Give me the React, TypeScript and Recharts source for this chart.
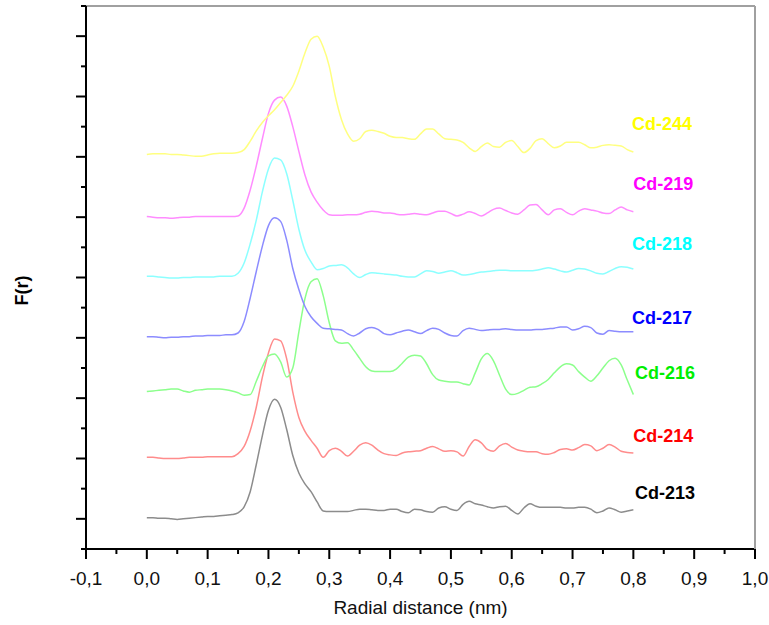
import { LineChart, Line, XAxis, YAxis, ReferenceDot } from 'recharts';

// radial distance (nm), sampled every 0.01
const radius = [
  0.0, 0.01, 0.02, 0.03, 0.04, 0.05, 0.06, 0.07, 0.08, 0.09,
  0.1, 0.11, 0.12, 0.13, 0.14, 0.15, 0.16, 0.17, 0.18, 0.19,
  0.2, 0.21, 0.22, 0.23, 0.24, 0.25, 0.26, 0.27, 0.28, 0.29,
  0.3, 0.31, 0.32, 0.33, 0.34, 0.35, 0.36, 0.37, 0.38, 0.39,
  0.4, 0.41, 0.42, 0.43, 0.44, 0.45, 0.46, 0.47, 0.48, 0.49,
  0.5, 0.51, 0.52, 0.53, 0.54, 0.55, 0.56, 0.57, 0.58, 0.59,
  0.6, 0.61, 0.62, 0.63, 0.64, 0.65, 0.66, 0.67, 0.68, 0.69,
  0.7, 0.71, 0.72, 0.73, 0.74, 0.75, 0.76, 0.77, 0.78, 0.79,
  0.8,
];

// F(r), already shifted by one tick per sample
const cd213 = [
  0.02, 0.02, 0.01, 0.01, 0.0, -0.01, 0.0, 0.01, 0.02, 0.03,
  0.04, 0.04, 0.05, 0.06, 0.07, 0.1, 0.2, 0.45, 0.9, 1.38,
  1.8, 1.98, 1.85, 1.48, 1.05, 0.76, 0.58, 0.45, 0.28, 0.13,
  0.12, 0.12, 0.12, 0.12, 0.14, 0.16, 0.16, 0.15, 0.14, 0.14,
  0.16, 0.16, 0.12, 0.1, 0.16, 0.15, 0.12, 0.11, 0.18, 0.2,
  0.16, 0.14, 0.24, 0.29, 0.25, 0.23, 0.2, 0.18, 0.2, 0.21,
  0.14, 0.08, 0.18, 0.25, 0.21, 0.19, 0.19, 0.19, 0.19, 0.18,
  0.18, 0.19, 0.19, 0.16, 0.1, 0.13, 0.18, 0.15, 0.11, 0.13,
  0.15,
];
const cd214 = [
  1.02, 1.02, 1.01, 1.0, 1.0, 1.0, 1.01, 1.02, 1.02, 1.02,
  1.03, 1.03, 1.03, 1.03, 1.03, 1.08, 1.2, 1.46, 1.85, 2.35,
  2.75, 2.98, 2.95, 2.65, 2.1, 1.68, 1.45, 1.3, 1.17, 1.02,
  1.13, 1.17, 1.12, 1.04, 1.12, 1.22, 1.26, 1.22, 1.14, 1.08,
  1.06, 1.05, 1.09, 1.11, 1.12, 1.13, 1.17, 1.2, 1.16, 1.12,
  1.13, 1.11, 1.04, 1.2, 1.31, 1.26, 1.15, 1.12, 1.21, 1.25,
  1.19, 1.14, 1.12, 1.11, 1.11, 1.08, 1.07, 1.1, 1.15, 1.16,
  1.14, 1.18, 1.23, 1.21, 1.13, 1.17, 1.23, 1.19, 1.12, 1.1,
  1.09,
];
const cd216 = [
  2.11, 2.12, 2.13, 2.14, 2.15, 2.15, 2.12, 2.1, 2.13, 2.14,
  2.15, 2.15, 2.15, 2.14, 2.12, 2.09, 2.05, 2.06, 2.28, 2.52,
  2.7, 2.73, 2.6, 2.35, 2.5, 3.1, 3.65, 3.93, 3.98, 3.7,
  3.25, 2.95, 2.91, 2.92, 2.8, 2.66, 2.52, 2.45, 2.44, 2.44,
  2.44, 2.48, 2.58, 2.68, 2.71, 2.7, 2.57, 2.39, 2.3, 2.28,
  2.27, 2.27, 2.24, 2.22, 2.42, 2.65, 2.74, 2.62, 2.38, 2.15,
  2.06, 2.08, 2.13, 2.18, 2.19, 2.24, 2.31, 2.42, 2.52, 2.57,
  2.55, 2.44, 2.35, 2.28, 2.37, 2.5, 2.62, 2.66, 2.55, 2.3,
  2.06,
];
const cd217 = [
  3.02, 3.02, 3.01, 3.0, 3.01, 3.01, 3.02, 3.02, 3.03, 3.03,
  3.04, 3.04, 3.04, 3.05, 3.05, 3.08, 3.27, 3.66, 4.1, 4.52,
  4.86, 4.99, 4.93, 4.62, 4.15, 3.8, 3.52, 3.35, 3.24, 3.16,
  3.15, 3.14, 3.13, 3.07, 3.03, 3.08, 3.15, 3.17, 3.14, 3.07,
  3.05, 3.08, 3.11, 3.13, 3.1, 3.07, 3.12, 3.16, 3.14, 3.08,
  3.04, 3.03, 3.12, 3.16, 3.14, 3.12, 3.13, 3.14, 3.14, 3.15,
  3.14, 3.13, 3.13, 3.13, 3.14, 3.14, 3.15, 3.16, 3.18, 3.18,
  3.13, 3.15, 3.19, 3.17, 3.08, 3.06, 3.12, 3.11, 3.1, 3.1,
  3.1,
];
const cd218 = [
  4.02, 4.02, 4.01, 4.0, 3.99, 3.99, 4.0, 4.0, 4.01, 4.01,
  4.01, 4.01, 4.02, 4.02, 4.02, 4.07, 4.24, 4.56, 4.95, 5.42,
  5.8, 5.98, 5.95, 5.72, 5.28, 4.8, 4.45, 4.26, 4.13, 4.15,
  4.19, 4.2, 4.21, 4.16, 4.06, 4.0, 4.05, 4.08, 4.07, 4.06,
  4.05, 4.04, 4.02, 4.01, 4.01, 4.06, 4.11, 4.1, 4.07, 4.09,
  4.11, 4.08, 4.04, 4.05, 4.07, 4.09, 4.1, 4.11, 4.12, 4.12,
  4.11, 4.11, 4.11, 4.11, 4.12, 4.14, 4.16, 4.14, 4.11, 4.09,
  4.12, 4.15, 4.14, 4.11, 4.07, 4.06, 4.1, 4.15, 4.18, 4.17,
  4.14,
];
const cd219 = [
  5.01, 5.0, 4.99, 4.99, 4.98, 4.99, 5.0, 5.0, 5.01, 5.01,
  5.01, 5.01, 5.01, 5.01, 5.01, 5.02, 5.15, 5.45, 5.85, 6.3,
  6.72, 6.94, 6.99, 6.84, 6.5, 6.09, 5.7, 5.42, 5.25, 5.12,
  5.04, 5.03, 5.03, 5.04, 5.04, 5.05, 5.08, 5.1, 5.09, 5.07,
  5.07, 5.05, 5.04, 5.05, 5.06, 5.05, 5.04, 5.07, 5.1, 5.1,
  5.06, 5.02, 5.05, 5.09, 5.06, 5.02, 5.07, 5.13, 5.15, 5.11,
  5.07, 5.05, 5.12, 5.2, 5.21, 5.12, 5.04, 5.12, 5.14, 5.08,
  5.04, 5.1, 5.14, 5.12, 5.1, 5.07, 5.06, 5.12, 5.17, 5.12,
  5.09,
];
const cd244 = [
  6.04, 6.05, 6.05, 6.05, 6.04, 6.04, 6.03, 6.02, 6.01, 6.01,
  6.03, 6.05, 6.06, 6.06, 6.06, 6.07, 6.12, 6.26, 6.43, 6.57,
  6.68, 6.78, 6.9, 7.02, 7.17, 7.42, 7.72, 7.95, 8.0, 7.82,
  7.5, 7.0, 6.62, 6.38, 6.26, 6.3, 6.42, 6.44, 6.42, 6.39,
  6.34, 6.32, 6.32, 6.3, 6.29, 6.38, 6.46, 6.46, 6.38, 6.3,
  6.29, 6.28, 6.24, 6.15, 6.09, 6.17, 6.23, 6.17, 6.16, 6.24,
  6.27, 6.17, 6.07, 6.14, 6.27, 6.3, 6.22, 6.15, 6.18, 6.24,
  6.24, 6.24, 6.2, 6.15, 6.16, 6.19, 6.2, 6.19, 6.18, 6.12,
  6.08,
];

const seriesKeys = ['cd213', 'cd214', 'cd216', 'cd217', 'cd218', 'cd219', 'cd244'];
const seriesNames = ['Cd-213', 'Cd-214', 'Cd-216', 'Cd-217', 'Cd-218', 'Cd-219', 'Cd-244'];
const seriesValues = [cd213, cd214, cd216, cd217, cd218, cd219, cd244];
const lineColors = ['#8c8c8c', '#ff8c8c', '#8cff8c', '#8c8cff', '#8cffff', '#ff8cff', '#ffff80'];
const labelColors = ['#000000', '#ff0000', '#00ee00', '#0000ff', '#00ffff', '#ff00ff', '#ffff00'];
// where each name sits, in data units
const labelX = [0.852, 0.849, 0.852, 0.847, 0.847, 0.849, 0.847];
const labelY = [0.44, 1.38, 2.43, 3.34, 4.56, 5.55, 6.55];

const xTicks = [
  -0.1, -0.05, 0, 0.05, 0.1, 0.15, 0.2, 0.25, 0.3, 0.35, 0.4, 0.45,
  0.5, 0.55, 0.6, 0.65, 0.7, 0.75, 0.8, 0.85, 0.9, 0.95, 1.0,
];
const yTicks = [
  -0.5, 0, 0.5, 1, 1.5, 2, 2.5, 3, 3.5, 4, 4.5, 5, 5.5, 6, 6.5, 7, 7.5, 8, 8.5,
];

const rows = radius.map((r, i) => {
  const row: { [key: string]: number } = { r };
  seriesKeys.forEach((k, s) => {
    row[k] = seriesValues[s][i];
  });
  return row;
});

const FONT = '"Liberation Sans", Arial, sans-serif';

const XTick = (props: any) => {
  const { x, y, payload } = props;
  const v = payload.value as number;
  const major = Math.abs(v * 10 - Math.round(v * 10)) < 1e-6;
  return (
    <g>
      <line x1={x} x2={x} y1={y} y2={y + (major ? 10 : 5)} stroke="#000" strokeWidth={2} />
      {major && (
        <text x={x} y={y + 36} textAnchor="middle" fontSize={19} fill="#111" fontFamily={FONT}>
          {v.toFixed(1).replace('.', ',')}
        </text>
      )}
    </g>
  );
};

const YTick = (props: any) => {
  const { x, y, payload } = props;
  const major = Number.isInteger(payload.value);
  return <line x1={x - (major ? 10 : 5)} x2={x} y1={y} y2={y} stroke="#000" strokeWidth={2} />;
};

const YTitle = (props: any) => {
  const { viewBox } = props;
  const cx = viewBox.x - 57;
  const cy = viewBox.y + viewBox.height / 2 + 13;
  return (
    <text
      x={cx}
      y={cy}
      transform={`rotate(-90 ${cx} ${cy})`}
      textAnchor="middle"
      fontSize={18}
      fontWeight="bold"
      fill="#000"
      fontFamily={FONT}
    >
      F(r)
    </text>
  );
};

export default function App() {
  return (
    <div style={{ fontFamily: FONT }}>
      <style>{'body { margin: 0; overflow: hidden; }'}</style>
      <LineChart width={769} height={625} data={rows} margin={{ top: 5, right: 13, bottom: 75, left: 85 }}>
        <XAxis
          dataKey="r"
          type="number"
          domain={[-0.1, 1.0]}
          ticks={xTicks}
          interval={0}
          height={1}
          tickSize={0}
          tickMargin={0}
          tickLine={false}
          tick={XTick}
          axisLine={{ stroke: '#000', strokeWidth: 2 }}
          allowDataOverflow
          label={{ value: 'Radial distance (nm)', position: 'bottom', offset: 51, fontSize: 19, fill: '#111' }}
        />
        <XAxis
          xAxisId="top"
          orientation="top"
          type="number"
          domain={[-0.1, 1.0]}
          height={1}
          tick={false}
          tickLine={false}
          axisLine={{ stroke: '#a0a0a0', strokeWidth: 2 }}
        />
        <YAxis
          type="number"
          domain={[-0.5, 8.5]}
          ticks={yTicks}
          interval={0}
          width={1}
          tickSize={0}
          tickMargin={0}
          tickLine={false}
          tick={YTick}
          axisLine={{ stroke: '#000', strokeWidth: 2 }}
          allowDataOverflow
          label={<YTitle />}
        />
        <YAxis
          yAxisId="right"
          orientation="right"
          type="number"
          domain={[-0.5, 8.5]}
          width={1}
          tick={false}
          tickLine={false}
          axisLine={{ stroke: '#a0a0a0', strokeWidth: 2 }}
        />
        {seriesKeys.map((k, s) => (
          <Line
            key={k}
            dataKey={k}
            type="monotone"
            stroke={lineColors[s]}
            strokeWidth={1.5}
            dot={false}
            activeDot={false}
            isAnimationActive={false}
          />
        ))}
        {seriesNames.map((name, s) => (
          <ReferenceDot
            key={name}
            x={labelX[s]}
            y={labelY[s]}
            r={0}
            fill="none"
            stroke="none"
            label={{
              value: name,
              position: 'center',
              fill: labelColors[s],
              fontSize: 18,
              fontWeight: 'bold',
              fontFamily: FONT,
            }}
          />
        ))}
      </LineChart>
    </div>
  );
}
